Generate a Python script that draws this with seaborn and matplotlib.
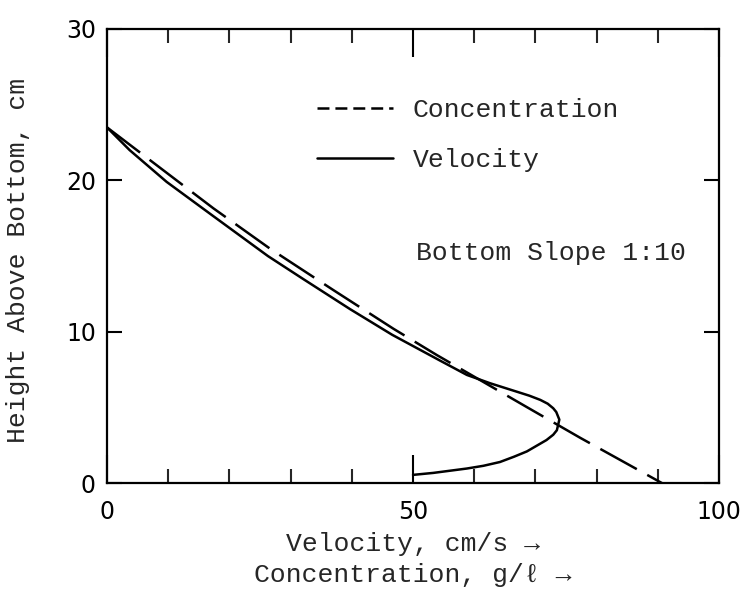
import matplotlib
matplotlib.use("Agg")
import matplotlib.pyplot as plt
from matplotlib.lines import Line2D
import seaborn as sns

# values (height in cm)
conc_height = [23.5, 20.5, 18.15, 15.5, 12.75, 10.2, 8.46, 5.0, 3.0, 0.0]
concentration = [0.0, 9.75, 17.4, 26.6, 37.0, 46.8, 53.9, 68.7, 77.3, 90.7]

vel_height = [23.5, 22.0, 19.9, 17.6, 15.0, 13.5, 11.5, 9.8, 8.1, 7.15, 6.6, 6.05,
              5.78, 5.5, 5.25, 4.95, 4.7, 4.2, 3.5, 3.2, 2.85, 2.1, 1.75, 1.4,
              1.15, 0.97, 0.68, 0.55]
velocity = [0.0, 3.7, 9.75, 17.5, 26.3, 32.0, 39.7, 46.6, 54.4, 58.8, 62.6, 66.9,
            69.0, 70.8, 72.0, 72.9, 73.4, 73.9, 73.5, 72.9, 71.8, 68.6, 66.5, 64.2,
            61.5, 58.8, 53.3, 50.0]

xticks_major = [0, 50, 100]
xticks_minor = [10, 20, 30, 40, 60, 70, 80, 90]
yticks = [0, 10, 20, 30]

sns.set_style("ticks")
plt.rcParams['font.family'] = ['DejaVu Sans']
plt.rcParams['lines.scale_dashes'] = False
mono = ['Liberation Mono', 'DejaVu Sans Mono']

fig = plt.figure(figsize=(7.53, 5.90), dpi=100)
ax = fig.add_axes([0.142, 0.181, 0.813, 0.770])

sns.lineplot(x=velocity, y=vel_height, sort=False, estimator=None,
             color='black', linewidth=1.8, ax=ax)
sns.lineplot(x=concentration, y=conc_height, sort=False, estimator=None,
             color='black', linewidth=1.8, ax=ax)
ax.lines[-1].set_dashes((30, 8.6))
for ln in ax.lines:
    ln.set_solid_joinstyle('round')

ax.set_xlim(0, 100)
ax.set_ylim(0, 30)
ax.set_xticks(xticks_major)
ax.set_xticks(xticks_minor, minor=True)
ax.set_yticks(yticks)
ax.tick_params(axis='x', which='major', direction='in', length=20, width=1.5,
               top=True, bottom=True, pad=12, labelsize=17, colors='black')
ax.tick_params(axis='x', which='minor', direction='in', length=10, width=1.5,
               top=True, bottom=True)
ax.tick_params(axis='y', which='major', direction='in', length=11, width=1.5,
               left=True, right=True, pad=8, labelsize=17, colors='black')
for sp in ax.spines.values():
    sp.set_color('black')
    sp.set_linewidth(1.6)

ax.set_xlabel("Velocity, cm/s \u2192\nConcentration, g/\u2113 \u2192",
              family=mono, fontsize=19, labelpad=6, linespacing=1.35)
ax.set_ylabel("Height Above Bottom, cm", family=mono, fontsize=19)
ax.yaxis.set_label_coords(-0.125, 0.49)

ax.text(50.5, 15.2, "Bottom Slope 1:10", family=mono, fontsize=19,
        va='center', ha='left')

handles = [Line2D([], [], color='black', linewidth=1.8, dashes=(8.6, 4.3)),
           Line2D([], [], color='black', linewidth=1.8)]
ax.legend(handles, ["Concentration", "Velocity"], loc='upper left',
          bbox_to_anchor=(0.343, 0.848), frameon=False, borderpad=0,
          borderaxespad=0, handlelength=2.88, handletextpad=0.76,
          labelspacing=1.0, prop={'family': mono, 'size': 19})

fig.savefig("out.png", dpi=100)
